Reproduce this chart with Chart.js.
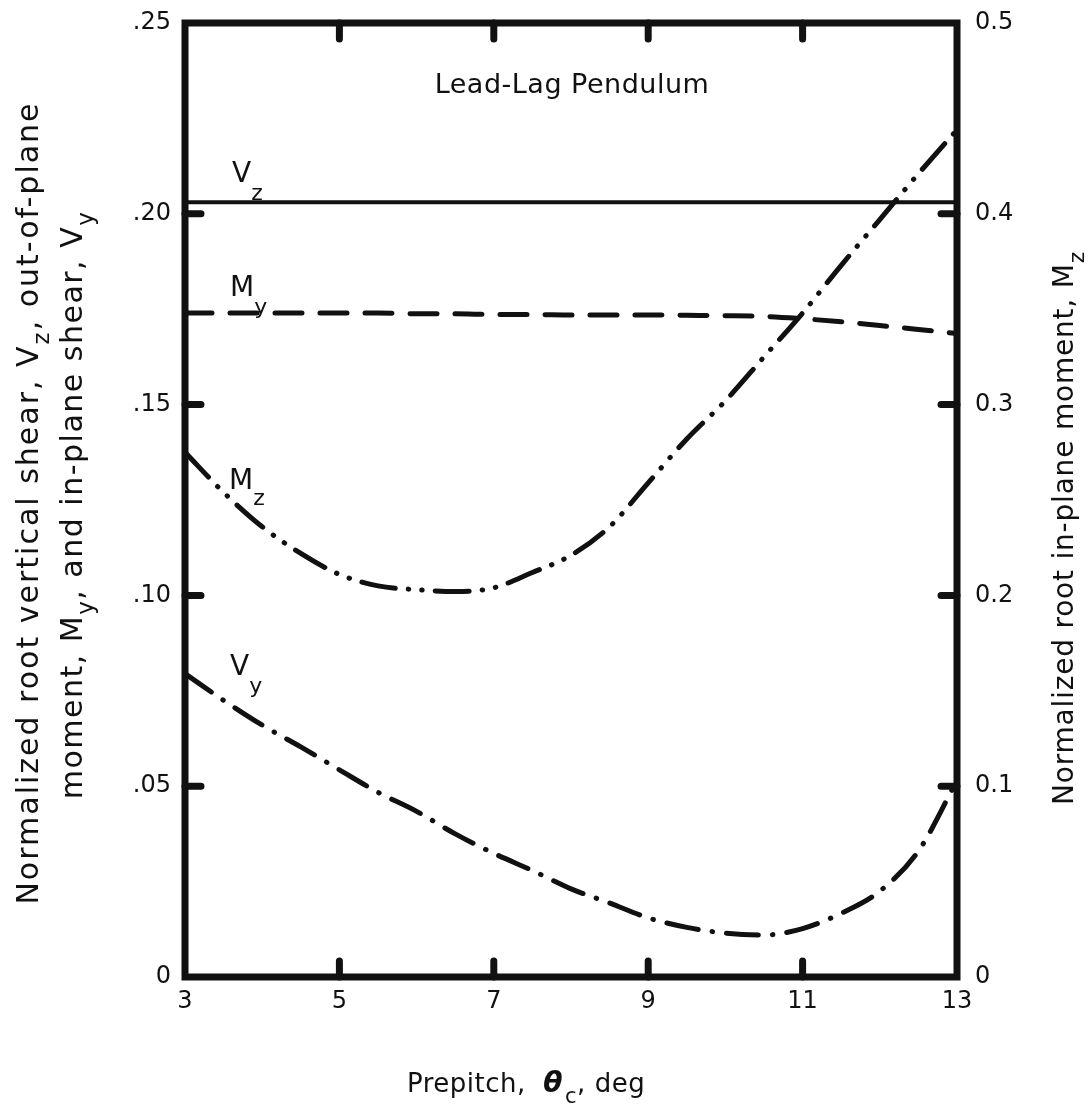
<!DOCTYPE html>
<html>
<head>
<meta charset="utf-8">
<script src="https://cdn.jsdelivr.net/npm/chart.js@4"></script>
<style>
  html, body { margin: 0; padding: 0; background: #fff; }
  #wrap { width: 1092px; height: 1110px; }
</style>
</head>
<body>
<div id="wrap"><canvas id="chart" width="1092" height="1110"></canvas></div>
<script>
// values
const prepitch = [3, 3.5, 4, 4.5, 5, 5.5, 6, 6.5, 7, 7.5, 8, 8.5, 9, 9.5, 10, 10.5, 11, 11.5, 12, 12.5, 13];
const vz = [0.203, 0.203, 0.203, 0.203, 0.203, 0.203, 0.203, 0.203, 0.203, 0.203, 0.203, 0.203, 0.203, 0.203, 0.203, 0.203, 0.203, 0.203, 0.203, 0.203, 0.203];
const my = [0.174, 0.174, 0.174, 0.174, 0.174, 0.174, 0.1738, 0.1738, 0.1736, 0.1736, 0.1735, 0.1735, 0.1735, 0.1734, 0.1733, 0.1731, 0.1725, 0.1717, 0.1707, 0.1697, 0.1686];
const mz = [0.275, 0.254, 0.236, 0.222, 0.211, 0.205, 0.203, 0.202, 0.204, 0.212, 0.221, 0.236, 0.259, 0.282, 0.302, 0.325, 0.348, 0.373, 0.397, 0.421, 0.444];
const vy = [0.0795, 0.0725, 0.066, 0.0603, 0.0543, 0.0484, 0.0434, 0.0375, 0.0324, 0.0279, 0.0231, 0.0194, 0.0155, 0.013, 0.0115, 0.011, 0.0127, 0.0167, 0.0225, 0.033, 0.0515];

const xTicks = [3, 5, 7, 9, 11, 13];
const leftTicks = [0, 0.05, 0.1, 0.15, 0.2, 0.25];
const rightTicks = [0, 0.1, 0.2, 0.3, 0.4, 0.5];

const ink = '#111';
const font = '"DejaVu Sans", sans-serif';

function pts(ys) {
    return prepitch.map((x, i) => ({ x: x, y: ys[i] }));
}

function line(label, ys, axis, dash, width) {
    return {
        label: label,
        data: pts(ys),
        yAxisID: axis,
        borderColor: ink,
        borderWidth: width,
        borderDash: dash,
        borderCapStyle: 'round',
        pointRadius: 0,
        cubicInterpolationMode: 'monotone',
        fill: false,
    };
}

// text with subscripts: parts = [[text, isSub], ...]
function drawParts(ctx, parts, x, y, size, align, spacing, drop) {
    const subSize = Math.round(size * 0.78);
    ctx.letterSpacing = (spacing || 0) + 'px';
    let total = 0;
    parts.forEach(([t, sub]) => {
        ctx.font = `${sub ? subSize : size}px ${font}`;
        total += ctx.measureText(t).width;
    });
    let cx = align === 'center' ? x - total / 2 : x;
    ctx.textAlign = 'left';
    ctx.textBaseline = 'middle';
    parts.forEach(([t, sub]) => {
        ctx.font = `${sub ? subSize : size}px ${font}`;
        ctx.fillText(t, cx, sub ? y + size * (drop || 0.45) : y);
        cx += ctx.measureText(t).width;
    });
    ctx.letterSpacing = '0px';
}

const decor = {
    id: 'decor',
    afterDraw(chart) {
        const ctx = chart.ctx;
        const a = chart.chartArea;
        const sx = chart.scales.x, sy = chart.scales.y;
        ctx.save();
        ctx.fillStyle = ink;
        ctx.strokeStyle = ink;
        ctx.lineCap = 'round';

        // frame
        ctx.lineWidth = 7;
        ctx.strokeRect(a.left, a.top, a.right - a.left, a.bottom - a.top);

        // inward ticks
        const len = 16;
        ctx.beginPath();
        xTicks.slice(1, -1).forEach(v => {
            const px = sx.getPixelForValue(v);
            ctx.moveTo(px, a.bottom); ctx.lineTo(px, a.bottom - len);
            ctx.moveTo(px, a.top); ctx.lineTo(px, a.top + len);
        });
        leftTicks.slice(1, -1).forEach(v => {
            const py = sy.getPixelForValue(v);
            ctx.moveTo(a.left, py); ctx.lineTo(a.left + len, py);
            ctx.moveTo(a.right, py); ctx.lineTo(a.right - len, py);
        });
        ctx.stroke();

        // title inside plot
        drawParts(ctx, [['Lead-Lag Pendulum', false]], 572, 86, 27, 'center', 0.5);

        // curve labels
        drawParts(ctx, [['V', false], ['z', true]], 232, 175, 28, 'left', 0, 0.68);
        drawParts(ctx, [['M', false], ['y', true]], 230, 289, 28, 'left', 0, 0.68);
        drawParts(ctx, [['M', false], ['z', true]], 229, 482, 28, 'left', 0, 0.6);
        drawParts(ctx, [['V', false], ['y', true]], 230, 668, 28, 'left', 0, 0.68);

        // x axis title
        ctx.letterSpacing = '0.5px';
        ctx.font = `26px ${font}`;
        const pre = 'Prepitch,  ';
        let tx = 407;
        const ty = 1085;
        ctx.textAlign = 'left';
        ctx.textBaseline = 'middle';
        ctx.fillText(pre, tx, ty);
        tx += ctx.measureText(pre).width;
        ctx.font = `bold italic 28px ${font}`;
        ctx.fillText('θ', tx, ty);
        tx += ctx.measureText('θ').width;
        ctx.font = `21px ${font}`;
        ctx.fillText('c', tx + 2, ty + 13);
        tx += ctx.measureText('c').width + 2;
        ctx.font = `26px ${font}`;
        ctx.fillText(', deg', tx, ty);
        ctx.letterSpacing = '0px';

        // left axis title (two lines)
        ctx.save();
        ctx.translate(30, 503);
        ctx.rotate(-Math.PI / 2);
        drawParts(ctx, [['Normalized root vertical shear, V', false], ['z', true], [', out-of-plane', false]], 0, 0, 30, 'center', 2);
        ctx.restore();
        ctx.save();
        ctx.translate(74, 505);
        ctx.rotate(-Math.PI / 2);
        drawParts(ctx, [['moment, M', false], ['y', true], [', and in-plane shear, V', false], ['y', true]], 0, 0, 30, 'center', 1.5);
        ctx.restore();

        // right axis title
        ctx.save();
        ctx.translate(1066, 528);
        ctx.rotate(-Math.PI / 2);
        drawParts(ctx, [['Normalized root in-plane moment, M', false], ['z', true]], 0, 0, 28, 'center', 0.8);
        ctx.restore();

        ctx.restore();
    },
};

function fitVertical(width) {
    return s => {
        s.width = width;
        s.paddingTop = 0;
        s.paddingBottom = 0;
    };
}

new Chart(document.getElementById('chart'), {
    type: 'line',
    data: {
        datasets: [
            line('Vz', vz, 'y', [], 4),
            line('My', my, 'y', [27, 18], 5),
            line('Mz', mz, 'y2', [34, 13, 0.5, 13, 0.5, 13], 5),
            line('Vy', vy, 'y', [32, 14, 0.5, 14], 5),
        ],
    },
    options: {
        responsive: false,
        animation: false,
        layout: { padding: { top: 23, left: 0, right: 0, bottom: 0 } },
        plugins: {
            legend: { display: false },
            tooltip: { enabled: false },
        },
        scales: {
            x: {
                type: 'linear',
                min: 3,
                max: 13,
                afterBuildTicks: s => { s.ticks = xTicks.map(v => ({ value: v })); },
                afterFit: s => { s.height = 133; s.paddingLeft = 0; s.paddingRight = 0; },
                grid: { display: false, drawTicks: false },
                border: { display: false },
                ticks: { color: ink, padding: 10, font: { family: font, size: 24 }, callback: v => String(v) },
            },
            y: {
                position: 'left',
                min: 0,
                max: 0.25,
                afterBuildTicks: s => { s.ticks = leftTicks.map(v => ({ value: v })); },
                afterFit: fitVertical(185),
                grid: { display: false, drawTicks: false },
                border: { display: false },
                ticks: {
                    color: ink, padding: 14, font: { family: font, size: 24 },
                    callback: v => v === 0 ? '0' : v.toFixed(2).replace(/^0/, ''),
                },
            },
            y2: {
                position: 'right',
                min: 0,
                max: 0.5,
                afterBuildTicks: s => { s.ticks = rightTicks.map(v => ({ value: v })); },
                afterFit: fitVertical(135),
                grid: { display: false, drawTicks: false },
                border: { display: false },
                ticks: {
                    color: ink, padding: 18, font: { family: font, size: 24 },
                    callback: v => v === 0 ? '0' : v.toFixed(1),
                },
            },
        },
    },
    plugins: [decor],
});
</script>
</body>
</html>
